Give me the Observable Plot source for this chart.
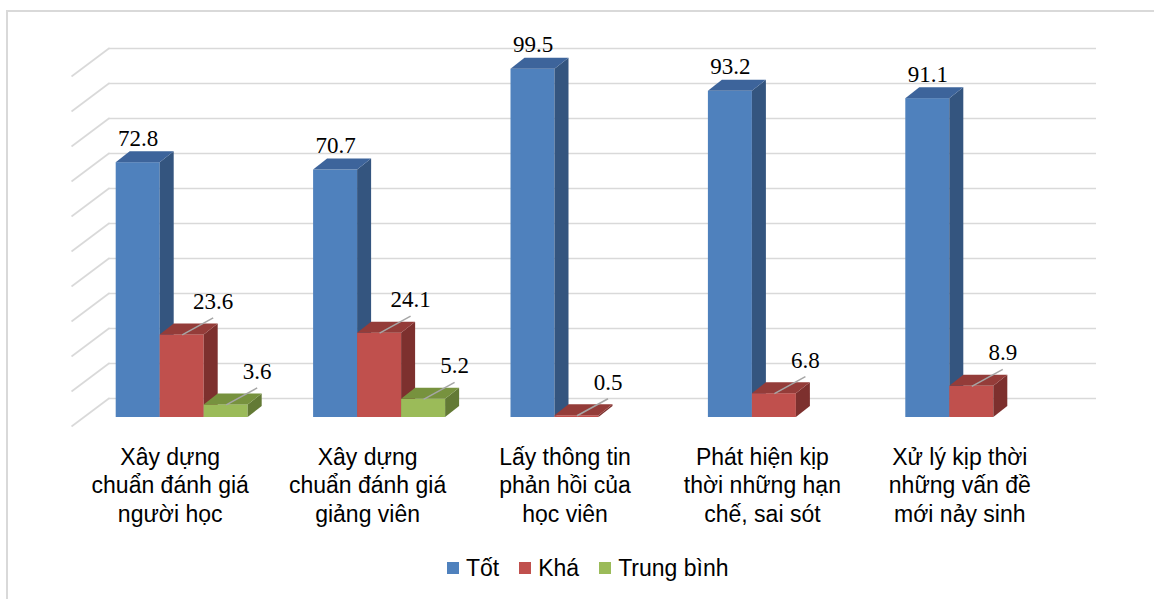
<!DOCTYPE html>
<html>
<head>
<meta charset="utf-8">
<script src="https://cdn.jsdelivr.net/npm/d3@7"></script>
<script src="https://cdn.jsdelivr.net/npm/@observablehq/plot@0.6"></script>
<style>
  html, body { margin: 0; padding: 0; background: #fff; width: 1154px; height: 599px; overflow: hidden; }
  #frame { position: absolute; left: 6px; top: 10px; width: 1200px; height: 620px;
           border-left: 2px solid #d9d9d9; border-top: 2px solid #d9d9d9; }
  #chart { position: absolute; left: 0; top: 0; }
  #legend { position: absolute; left: 447px; top: 554px; height: 28px; display: flex; align-items: center;
            font: 23px "Liberation Sans", Arial, sans-serif; color: #000; white-space: nowrap; }
  .item { display: flex; align-items: center; margin-right: 20px; }
  .sw { width: 12px; height: 12px; margin-right: 7px; }
</style>
</head>
<body>
<div id="frame"></div>
<div id="chart"></div>
<div id="legend"></div>
<script>
// ---- data ----
const categories = [
  "Xây dựng\nchuẩn đánh giá\nngười học",
  "Xây dựng\nchuẩn đánh giá\ngiảng viên",
  "Lấy thông tin\nphản hồi của\nhọc viên",
  "Phát hiện kịp\nthời những hạn\nchế, sai sót",
  "Xử lý kịp thời\nnhững vấn đề\nmới nảy sinh"
];
const seriesNames = ["Tốt", "Khá", "Trung bình"];
const tot = [72.8, 70.7, 99.5, 93.2, 91.1];
const kha = [23.6, 24.1, 0.5, 6.8, 8.9];
const trungBinh = [3.6, 5.2, null, null, null];
const gridValues = [0, 10, 20, 30, 40, 50, 60, 70, 80, 90, 100];

// ---- styles ----
const frontColors = ["#4F81BD", "#C0504D", "#9BBB59"];
const sideColors  = ["#34557F", "#7D302E", "#637A35"];
const topColors   = ["#3D649B", "#943C39", "#77923E"];

// ---- layout ----
const W = 1154, H = 545;
const mL = 83, mR = 84, mT = 67, mB = 128;
const pxX = (W - mL - mR) / 5;        // px per category unit
const pxY = (H - mT - mB) / 100;      // px per value unit
const barW = 44 / pxX;
const depX = 14 / pxX, depY = 11 / pxY;

const allSeries = [tot, kha, trungBinh];
const bars = [];
allSeries.forEach((vals, s) => {
  vals.forEach((v, i) => {
    if (v == null) return;
    const xc = i + (s - 1) * barW;
    bars.push({ id: s + "-" + i, s, i, v, xc, xl: xc - barW / 2, xr: xc + barW / 2 });
  });
});

const marks = [];
// back wall gridlines
marks.push(Plot.ruleY(gridValues, { y: d => d, dx: 26, dy: -19, stroke: "#d9d9d9", strokeWidth: 1.6 }));
// side wall diagonals
marks.push(Plot.link(gridValues, {
  x1: () => -0.5, y1: d => d,
  x2: () => -0.5 + 38 / pxX, y2: d => d + 28.5 / pxY,
  dx: -12, dy: 9, stroke: "#d9d9d9", strokeWidth: 1.6
}));

for (let s = 0; s < 3; s++) {
  const bs = bars.filter(b => b.s === s);
  const side = bs.flatMap(b => [
    { id: b.id, x: b.xr, y1: 0, y2: b.v },
    { id: b.id, x: b.xr + depX, y1: depY, y2: b.v + depY }
  ]);
  const top = bs.flatMap(b => [
    { id: b.id, x: b.xl, y1: b.v, y2: b.v },
    { id: b.id, x: b.xl + depX, y1: b.v, y2: b.v + depY },
    { id: b.id, x: b.xr, y1: b.v, y2: b.v + depY },
    { id: b.id, x: b.xr + depX, y1: b.v + depY, y2: b.v + depY }
  ]);
  marks.push(Plot.rect(bs, { x1: "xl", x2: "xr", y1: () => 0, y2: "v", fill: frontColors[s] }));
  marks.push(Plot.areaY(side, { x: "x", y1: "y1", y2: "y2", z: "id", fill: sideColors[s], curve: "linear" }));
  marks.push(Plot.areaY(top, { x: "x", y1: "y1", y2: "y2", z: "id", fill: topColors[s], curve: "linear" }));
}

const blueBars = bars.filter(b => b.s === 0);
const otherBars = bars.filter(b => b.s !== 0);
const labelFont = { fontSize: 23, fontFamily: "'Liberation Serif', 'Times New Roman', serif", fill: "#000", lineAnchor: "bottom" };

marks.push(Plot.text(blueBars, { x: "xc", y: "v", text: d => d.v.toFixed(1), dy: -17, ...labelFont }));
marks.push(Plot.link(otherBars, {
  x1: "xc", y1: "v", x2: d => d.xc + 31 / pxX, y2: d => d.v + 17 / pxY,
  stroke: "#a6a6a6", strokeWidth: 1.5
}));
marks.push(Plot.text(otherBars, { x: "xc", y: "v", text: d => d.v.toFixed(1), dx: 31, dy: -26, ...labelFont }));

marks.push(Plot.axisX(d3.range(categories.length), {
  tickFormat: i => categories[i], tickSize: 0, tickPadding: 28, dx: -12,
  fontSize: 23, fontFamily: "'Liberation Sans', Arial, sans-serif", lineHeight: 1.22, fill: "#000"
}));

const chart = Plot.plot({
  width: W, height: H,
  marginLeft: mL, marginRight: mR, marginTop: mT, marginBottom: mB,
  x: { type: "linear", domain: [-0.5, 4.5], axis: null },
  y: { type: "linear", domain: [0, 100], axis: null },
  style: { background: "transparent", overflow: "visible", color: "#000" },
  marks
});
document.getElementById("chart").appendChild(chart);

// legend
const legend = document.getElementById("legend");
seriesNames.forEach((name, s) => {
  const item = document.createElement("div");
  item.className = "item";
  const sw = document.createElement("span");
  sw.className = "sw";
  sw.style.background = frontColors[s];
  const t = document.createElement("span");
  t.textContent = name;
  item.appendChild(sw); item.appendChild(t);
  legend.appendChild(item);
});
</script>
</body>
</html>
